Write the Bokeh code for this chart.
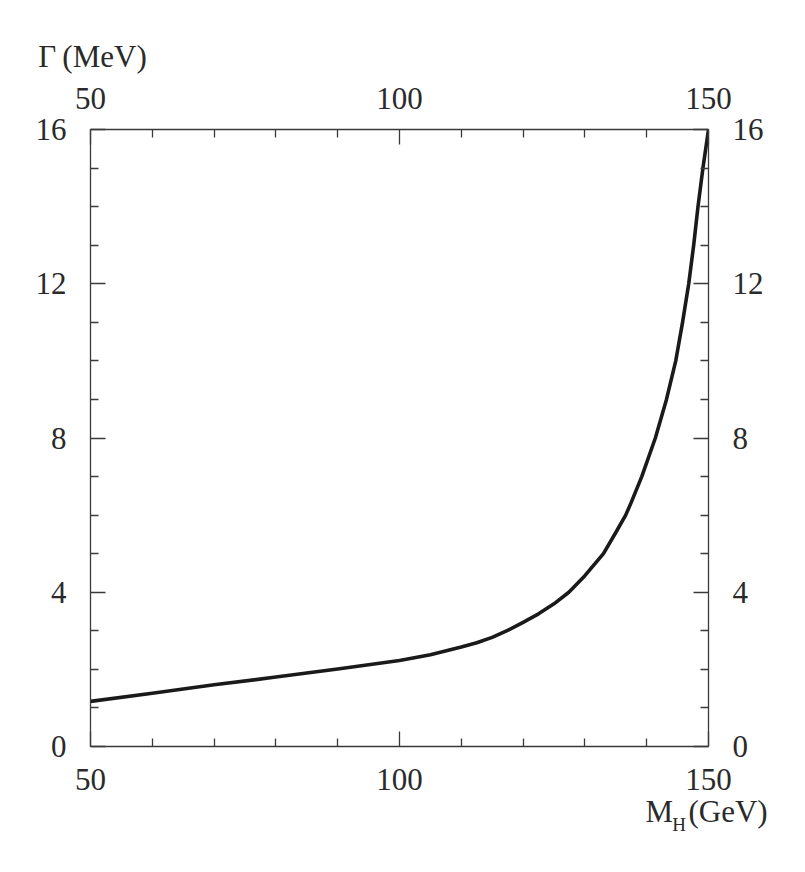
from bokeh.plotting import figure
from bokeh.models import LinearAxis, FixedTicker, Range1d
from bokeh.embed import file_html
from bokeh.resources import INLINE

# Data (Higgs width vs mass)
mass_gev = [50, 60, 70, 80, 90, 100, 105, 110, 112.5, 115, 117.5, 120, 122.5, 125, 127.4, 130,
            133, 135, 136.6, 137.5, 139.2, 141.4, 143.2, 144.7, 145.8, 146.8, 147.6, 148.3, 149.1, 150]
width_mev = [1.17, 1.38, 1.60, 1.80, 2.01, 2.23, 2.38, 2.58, 2.69, 2.83, 3.01, 3.22, 3.44, 3.70, 4.0, 4.43,
             5.0, 5.55, 6.0, 6.33, 7.0, 8.0, 9.0, 10.0, 11.0, 12.0, 13.0, 14.0, 15.0, 16.0]

x_major = [50, 100, 150]
x_minor = [60, 70, 80, 90, 110, 120, 130, 140]
y_major = [0, 4, 8, 12, 16]
y_minor = [1, 2, 3, 5, 6, 7, 9, 10, 11, 13, 14, 15]

y_title = "Γ\u2009(MeV)"
x_title_main = "M\u2002(GeV)"
x_title_sub = "H"

FONT = "Liberation Serif"
TXT = "#2a2a2a"
AX = "#3a3a3a"

p = figure(width=790, height=856, output_backend="svg", toolbar_location=None,
           x_range=Range1d(50, 150), y_range=Range1d(0, 16),
           x_axis_location=None, y_axis_location=None,
           min_border_left=90, min_border_right=82, min_border_top=129, min_border_bottom=110)
p.outline_line_color = None
p.background_fill_color = "white"
p.border_fill_color = "white"
for g in p.grid:
    g.visible = False


def make_axis(ticks, minor, standoff):
    ax = LinearAxis(ticker=FixedTicker(ticks=ticks, minor_ticks=minor))
    ax.major_tick_in = 15
    ax.major_tick_out = 0
    ax.minor_tick_in = 8
    ax.minor_tick_out = 0
    ax.axis_line_color = AX
    ax.axis_line_width = 1.3
    ax.major_tick_line_color = AX
    ax.major_tick_line_width = 1.3
    ax.minor_tick_line_color = AX
    ax.minor_tick_line_width = 1.3
    ax.major_label_text_font = FONT
    ax.major_label_text_font_size = "31px"
    ax.major_label_text_color = TXT
    ax.major_label_standoff = standoff
    return ax


def text_axis(pos, text, size, standoff):
    ax = LinearAxis(ticker=FixedTicker(ticks=[pos], minor_ticks=[]))
    ax.major_label_overrides = {pos: text}
    ax.axis_line_color = None
    ax.major_tick_line_color = None
    ax.minor_tick_line_color = None
    ax.major_tick_in = 0
    ax.major_tick_out = 0
    ax.minor_tick_in = 0
    ax.minor_tick_out = 0
    ax.major_label_text_font = FONT
    ax.major_label_text_font_size = size
    ax.major_label_text_color = TXT
    ax.major_label_standoff = standoff
    return ax


p.add_layout(make_axis(x_major, x_minor, 22), "below")
p.add_layout(text_axis(149.69, x_title_main, "31px", 1), "below")
p.add_layout(text_axis(145.24, x_title_sub, "19px", -18), "below")
p.add_layout(make_axis(x_major, x_minor, 21), "above")
p.add_layout(text_axis(50.32, y_title, "31px", 11), "above")
p.add_layout(make_axis(y_major, y_minor, 24), "left")
p.add_layout(make_axis(y_major, y_minor, 24), "right")

p.line(mass_gev, width_mev, line_width=3.6, line_color="#1a1a1a", line_join="round")

open("out.html", "w").write(file_html(p, INLINE))
